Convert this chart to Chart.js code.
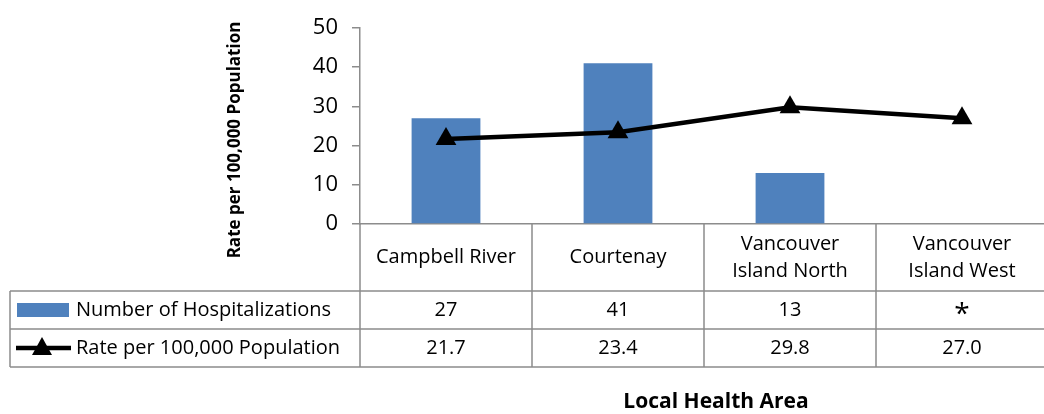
<!DOCTYPE html>
<html>
<head>
<meta charset="utf-8">
<script src="https://cdn.jsdelivr.net/npm/chart.js@4/dist/chart.umd.min.js"></script>
<style>
  html, body { margin: 0; padding: 0; background: #fff; overflow: hidden; }
  #wrap { position: absolute; left: 0; top: 0; width: 1060px; height: 414px; }
</style>
</head>
<body>
<div id="wrap"><canvas id="chart" width="1060" height="414"></canvas></div>
<script>
// chart values
const categories = [['Campbell River'], ['Courtenay'], ['Vancouver', 'Island North'], ['Vancouver', 'Island West']];
const hospitalizations = [27, 41, 13, null];
const hospText = ['27', '41', '13', '*'];
const rates = [21.7, 23.4, 29.8, 27.0];
const rateText = ['21.7', '23.4', '29.8', '27.0'];
const yTicks = [0, 10, 20, 30, 40, 50];

const FONT = '"Open Sans", Lato, sans-serif';
const GRID = '#8c8c8c';
const BLUE = '#4f81bd';

// draws the data table under the plot plus the axis titles
const tablePlugin = {
    id: 'dataTable',
    afterDraw(chart) {
        const ctx = chart.ctx;
        const xs = chart.scales.x;
        const area = chart.chartArea;
        const half = (xs.getPixelForValue(1) - xs.getPixelForValue(0)) / 2;
        const bounds = categories.map((c, i) => xs.getPixelForValue(i) - half);
        bounds.push(xs.getPixelForValue(categories.length - 1) + half);

        const top = area.bottom, r1 = 291, r2 = 329, r3 = 367, left = 10;

        ctx.save();
        ctx.strokeStyle = GRID;
        ctx.lineWidth = 1.5;
        ctx.beginPath();
        [r1, r2, r3].forEach(y => { ctx.moveTo(left, y); ctx.lineTo(bounds[bounds.length - 1], y); });
        bounds.forEach(x => { ctx.moveTo(x, top); ctx.lineTo(x, r3); });
        ctx.moveTo(left, r1); ctx.lineTo(left, r3);
        ctx.stroke();

        ctx.fillStyle = '#000';
        ctx.font = '20px ' + FONT;
        ctx.textAlign = 'center';
        ctx.textBaseline = 'middle';
        categories.forEach((lines, i) => {
            const cx = xs.getPixelForValue(i);
            const mid = (top + r1) / 2;
            lines.forEach((t, j) => {
                ctx.fillText(t, cx, mid + (j - (lines.length - 1) / 2) * 27);
            });
            if (hospText[i] === '*') {
                // the asterisk sits lower and is drawn larger in the original
                ctx.font = '28px ' + FONT;
                ctx.fillText(hospText[i], cx, (r1 + r2) / 2 + 5);
                ctx.font = '20px ' + FONT;
            } else {
                ctx.fillText(hospText[i], cx, (r1 + r2) / 2);
            }
            ctx.fillText(rateText[i], cx, (r2 + r3) / 2);
        });

        // legend keys in first column
        ctx.fillStyle = BLUE;
        ctx.fillRect(17, 303, 52, 14);
        ctx.strokeStyle = '#000';
        ctx.lineWidth = 4.5;
        ctx.beginPath();
        ctx.moveTo(16, 348); ctx.lineTo(71, 348);
        ctx.stroke();
        ctx.fillStyle = '#000';
        ctx.beginPath();
        ctx.moveTo(42, 337); ctx.lineTo(52, 355); ctx.lineTo(32, 355);
        ctx.closePath(); ctx.fill();

        ctx.textAlign = 'left';
        ctx.fillText('Number of Hospitalizations', 76, (r1 + r2) / 2);
        ctx.fillText('Rate per 100,000 Population', 76, (r2 + r3) / 2);

        // axis titles
        ctx.font = 'bold 21px ' + FONT;
        ctx.textAlign = 'center';
        ctx.fillText('Local Health Area', 716, 402);

        ctx.translate(235, 140);
        ctx.rotate(-Math.PI / 2);
        ctx.font = 'bold 17px ' + FONT;
        ctx.fillText('Rate per 100,000 Population', 0, 0);
        ctx.restore();
    }
};

new Chart(document.getElementById('chart'), {
    type: 'bar',
    data: {
        labels: categories,
        datasets: [
            {
                type: 'line',
                label: 'Rate per 100,000 Population',
                data: rates,
                borderColor: '#000',
                backgroundColor: '#000',
                borderWidth: 4.5,
                pointStyle: 'triangle',
                pointRadius: 12,
                pointBorderWidth: 0,
                tension: 0,
                order: 0
            },
            {
                label: 'Number of Hospitalizations',
                data: hospitalizations,
                backgroundColor: BLUE,
                barPercentage: 0.4,
                categoryPercentage: 1,
                order: 1
            }
        ]
    },
    options: {
        responsive: false,
        animation: false,
        devicePixelRatio: 1,
        layout: { padding: { top: 28, right: 4, left: 0, bottom: 0 } },
        plugins: {
            legend: { display: false },
            tooltip: { enabled: false }
        },
        scales: {
            x: {
                afterFit: s => { s.height = 190; },
                ticks: { display: false },
                grid: { display: false },
                border: { display: true, color: GRID, width: 1.5 }
            },
            y: {
                min: 0,
                max: 50,
                afterFit: s => { s.width = 360; },
                afterBuildTicks: s => { s.ticks = yTicks.map(v => ({ value: v })); },
                ticks: {
                    color: '#000',
                    padding: 14,
                    font: { family: FONT, size: 22 }
                },
                grid: {
                    drawOnChartArea: false,
                    drawTicks: true,
                    tickLength: 8,
                    color: GRID,
                    lineWidth: 1.5
                },
                border: { color: GRID, width: 1.5 }
            }
        }
    },
    plugins: [tablePlugin]
});
</script>
</body>
</html>
